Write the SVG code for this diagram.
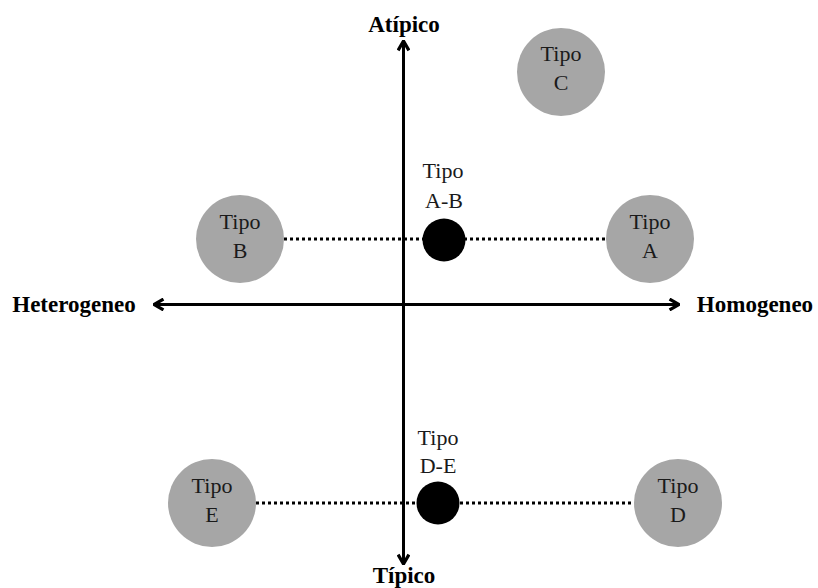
<svg xmlns="http://www.w3.org/2000/svg" width="818" height="588" viewBox="0 0 818 588">
<style>
.ax{stroke:#000;stroke-width:3;fill:none}
.dot{stroke:#000;stroke-width:3;stroke-dasharray:3 3;fill:none}
.g{fill:#a6a6a6}
.b{fill:#000}
.t{font-family:"Liberation Serif",serif;font-size:22px;fill:#1a1a1a;text-anchor:middle}
.lb{font-family:"Liberation Serif",serif;font-size:23px;font-weight:bold;fill:#000;text-anchor:middle}
</style>
<defs>
<marker id="ah" viewBox="0 0 10 10" refX="9" refY="5" markerWidth="4.5" markerHeight="4.5" orient="auto-start-reverse" markerUnits="strokeWidth">
<polyline points="2,1 9,5 2,9" fill="none" stroke="#000" stroke-width="2.4" stroke-linejoin="miter"/>
</marker>
</defs>
<rect width="818" height="588" fill="#fff"/>
<g id="connectors">
<line class="ax" x1="403.5" y1="564" x2="403.5" y2="41" marker-end="url(#ah)" marker-start="url(#ah)"/>
<line class="ax" x1="154" y1="304.5" x2="679" y2="304.5" marker-end="url(#ah)" marker-start="url(#ah)"/>
<line class="dot" x1="284" y1="239" x2="606" y2="239"/>
<line class="dot" x1="256" y1="503" x2="634" y2="503"/>
</g>
<g id="label-atipico"><text class="lb" x="404" y="32">Atípico</text></g>
<g id="label-tipico"><text class="lb" x="404" y="583">Típico</text></g>
<g id="label-heterogeneo"><text class="lb" x="74" y="312">Heterogeneo</text></g>
<g id="label-homogeneo"><text class="lb" x="755" y="312">Homogeneo</text></g>
<g id="tipo-c"><circle class="g" cx="561" cy="72" r="44"/><text class="t" x="561" y="61">Tipo</text><text class="t" x="561" y="90">C</text></g>
<g id="tipo-b"><circle class="g" cx="240" cy="239" r="44"/><text class="t" x="240" y="229">Tipo</text><text class="t" x="240" y="258">B</text></g>
<g id="tipo-a"><circle class="g" cx="650" cy="239" r="44"/><text class="t" x="650" y="229">Tipo</text><text class="t" x="650" y="258">A</text></g>
<g id="tipo-ab"><circle class="b" cx="444" cy="240" r="21.5"/><text class="t" x="443" y="178">Tipo</text><text class="t" x="444" y="208">A-B</text></g>
<g id="tipo-e"><circle class="g" cx="212" cy="503" r="44"/><text class="t" x="212" y="493">Tipo</text><text class="t" x="212" y="522">E</text></g>
<g id="tipo-d"><circle class="g" cx="678" cy="503" r="44"/><text class="t" x="678" y="493">Tipo</text><text class="t" x="678" y="522">D</text></g>
<g id="tipo-de"><circle class="b" cx="438" cy="503" r="21.5"/><text class="t" x="438" y="445">Tipo</text><text class="t" x="438" y="473">D-E</text></g>
</svg>
